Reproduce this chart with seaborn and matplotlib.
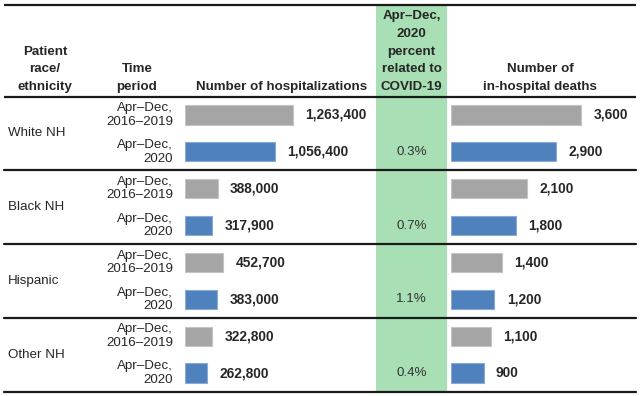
import matplotlib
matplotlib.use("Agg")
import matplotlib.pyplot as plt
import seaborn as sns
import pandas as pd
from matplotlib.patches import Rectangle

# ---------------- data ----------------
groups = ["White NH", "Black NH", "Hispanic", "Other NH"]
periods = ["Apr\u2013Dec,\n2016\u20132019", "Apr\u2013Dec,\n2020"]
hosp_2016_2019 = [1263400, 388000, 452700, 322800]
hosp_2020 = [1056400, 317900, 383000, 262800]
deaths_2016_2019 = [3600, 2100, 1400, 1100]
deaths_2020 = [2900, 1800, 1200, 900]
pct_covid_2020 = ["0.3%", "0.7%", "1.1%", "0.4%"]

header_race = "Patient\nrace/\nethnicity"
header_time = "Time\nperiod"
header_hosp = "Number of hospitalizations"
header_pct = "Apr\u2013Dec,\n2020\npercent\nrelated to\nCOVID-19"
header_deaths = "Number of\nin-hospital deaths"

colors = {"base": "#A5A5A5", "2020": "#4F81BD"}
edges = {"base": "#C4C4C4", "2020": "#8AAAD6"}
green = "#A9DFB5"

# ---------------- long table ----------------
rows = []
for i, g in enumerate(groups):
    rows.append(dict(row=str(2 * i), group=g, period="base", label=periods[0],
                     hosp=hosp_2016_2019[i], deaths=deaths_2016_2019[i], pct=""))
    rows.append(dict(row=str(2 * i + 1), group=g, period="2020", label=periods[1],
                     hosp=hosp_2020[i], deaths=deaths_2020[i], pct=pct_covid_2020[i]))
df = pd.DataFrame(rows)
order = list(df["row"])

sns.set_style("white")
plt.rcParams["font.family"] = ["Liberation Sans", "DejaVu Sans"]
FS = 9.6

W, H = 640, 396
fig = plt.figure(figsize=(W / 100, H / 100), dpi=100)

# background axes in pixel space
bg = fig.add_axes([0, 0, 1, 1])
bg.set_xlim(0, W)
bg.set_ylim(H, 0)
bg.axis("off")
bg.add_patch(Rectangle((376, 5), 71, 386, facecolor=green, edgecolor="none", zorder=0))
bg.hlines([4.5, 96.5], 4, 636, color="#1a1a1a", lw=1.6, zorder=3)

hdr = dict(fontsize=FS, fontweight="bold", ha="center", va="bottom", linespacing=1.63)
bg.text(45, 93, header_race, **hdr)
bg.text(137, 93, header_time, **hdr)
bg.text(282, 93, header_hosp, **hdr)
bg.text(411.5, 93, header_pct, **hdr)
bg.text(540, 93, header_deaths, **hdr)

top_px, bot_px = 96.5, 391.5
body_rect = [0, 1 - bot_px / H, 1, (bot_px - top_px) / H]

# body axes: row labels, period labels, percents, separators
body = fig.add_axes(body_rect)
body.set_facecolor("none")
body.set_xlim(0, W)
body.set_ylim(len(order) - 0.5, -0.5)
body.axis("off")
for i, g in enumerate(groups):
    body.text(8, 2 * i + 0.5, g, fontsize=FS, ha="left", va="center")
for k, r in df.iterrows():
    body.text(173, k, r["label"], fontsize=FS, ha="right", va="center", linespacing=1.18)
    if r["pct"]:
        body.text(411.5, k, r["pct"], fontsize=FS, ha="center", va="center", color="#333333")
for y in [1.5, 3.5, 5.5]:
    body.axhline(y, xmin=4 / W, xmax=636 / W, color="#1a1a1a", lw=1.6)
body.axhline(len(order) - 0.5, xmin=4 / W, xmax=636 / W, color="#1a1a1a", lw=1.6, clip_on=False)


def bar_panel(left_px, width_px, xmax, col):
    ax = fig.add_axes([left_px / W, body_rect[1], width_px / W, body_rect[3]])
    ax.set_facecolor("none")
    sns.barplot(data=df, x=col, y="row", hue="period", order=order,
                palette=colors, saturation=1, dodge=False, width=0.52,
                legend=False, orient="h", ax=ax)
    ax.set_xlim(0, xmax)
    ax.set_ylim(len(order) - 0.5, -0.5)
    ax.axis("off")
    for cont, per in zip(ax.containers, ["base", "2020"]):
        for b in cont:
            b.set_edgecolor(edges[per])
            b.set_linewidth(0.8)
        ax.bar_label(cont, fmt="{:,.0f}", padding=9, fontsize=FS + 0.3,
                     fontweight="bold")
    return ax


bar_panel(184.5, 1500000 * 108 / 1263400, 1500000, "hosp")
bar_panel(451, 4000 * 130 / 3600, 4000, "deaths")

fig.savefig("out.png", dpi=100)
